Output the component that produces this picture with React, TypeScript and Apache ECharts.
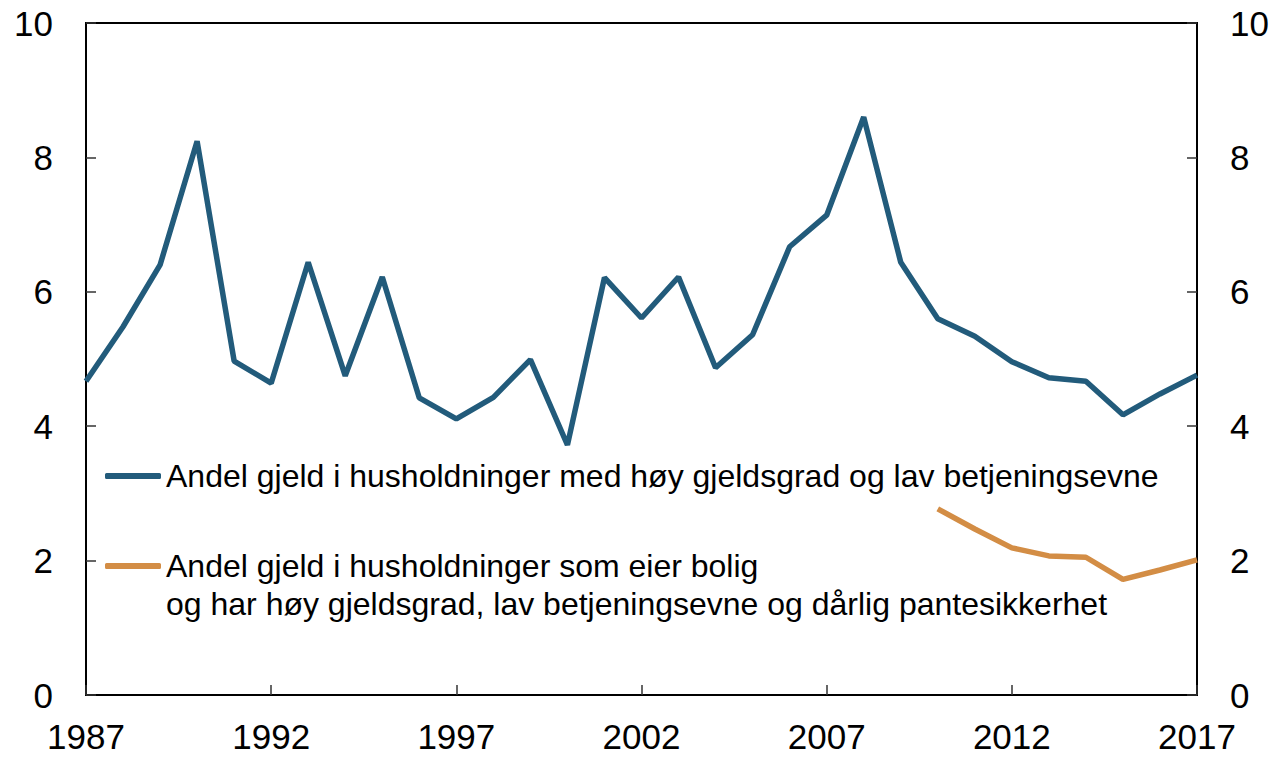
import React, { useEffect, useRef } from "react";
import * as echarts from "echarts";

const years: string[] = [];
for (let y = 1987; y <= 2017; y++) years.push(String(y));

const seriesNames = [
  "Andel gjeld i husholdninger med høy gjeldsgrad og lav betjeningsevne",
  "Andel gjeld i husholdninger som eier bolig og har høy gjeldsgrad, lav betjeningsevne og dårlig pantesikkerhet",
];
const legendLine1 = "Andel gjeld i husholdninger som eier bolig";
const legendLine2 = "og har høy gjeldsgrad, lav betjeningsevne og dårlig pantesikkerhet";

const highDebt: number[] = [
  4.67, 5.48, 6.4, 8.24, 4.97, 4.64, 6.44, 4.75, 6.22, 4.42, 4.11, 4.43, 4.99, 3.72, 6.21, 5.61,
  6.22, 4.87, 5.36, 6.67, 7.14, 8.6, 6.44, 5.6, 5.34, 4.96, 4.72, 4.67, 4.17, 4.48, 4.76,
];
const ownersData: (number | null)[] = [
  null, null, null, null, null, null, null, null, null, null, null, null, null, null, null, null,
  null, null, null, null, null, null, null, 2.77, 2.47, 2.19, 2.07, 2.05, 1.72, 1.86, 2.01,
];
const yTicks = { min: 0, max: 10, interval: 2 };

const FONT = "'Liberation Sans', Arial, Helvetica, sans-serif";
const BLUE = "#225b7b";
const ORANGE = "#d38d45";
const LEG_FS = 32;

export default function App() {
  const ref = useRef<HTMLDivElement>(null);
  useEffect(() => {
    document.body.style.margin = "0";
    if (!ref.current) return;
    const chart = echarts.init(ref.current, undefined, { renderer: "svg" });
    const yAxisCommon = {
      type: "value",
      min: yTicks.min,
      max: yTicks.max,
      interval: yTicks.interval,
      splitLine: { show: false },
      axisLine: { show: true, lineStyle: { color: "#000", width: 2 } },
      axisTick: { show: true, inside: true, length: 10, lineStyle: { color: "#333", width: 1.5 } },
      axisLabel: { color: "#000", fontSize: 35, fontFamily: FONT, margin: 33 },
    };
    const legendCommon = {
      left: 105,
      padding: 0,
      icon: "roundRect",
      itemWidth: 56,
      itemHeight: 6,
      textStyle: { color: "#000", fontSize: LEG_FS, fontFamily: FONT, lineHeight: 36 },
    };
    chart.setOption({
      animation: false,
      grid: {
        left: 86,
        right: 79,
        top: 23,
        bottom: 62,
        show: true,
        borderColor: "#000",
        borderWidth: 2,
        backgroundColor: "transparent",
      },
      xAxis: {
        type: "category",
        data: years,
        boundaryGap: false,
        axisLine: { show: true, lineStyle: { color: "#000", width: 2 } },
        axisTick: {
          show: true,
          inside: true,
          length: 10,
          interval: 4,
          lineStyle: { color: "#333", width: 1.5 },
        },
        axisLabel: { interval: 4, color: "#000", fontSize: 35, fontFamily: FONT, margin: 24 },
        splitLine: { show: false },
      },
      yAxis: [
        { ...yAxisCommon, position: "left" },
        { ...yAxisCommon, position: "right" },
      ],
      legend: [
        { ...legendCommon, data: [seriesNames[0]], top: 458 },
        { ...legendCommon, data: [seriesNames[1]], top: 548, formatter: () => legendLine1 },
      ],
      graphic: [
        {
          type: "text",
          left: 166,
          top: 588,
          style: { text: legendLine2, fill: "#000", fontSize: LEG_FS, fontFamily: FONT },
        },
      ],
      series: [
        {
          name: seriesNames[0],
          type: "line",
          data: highDebt,
          showSymbol: false,
          lineStyle: { color: BLUE, width: 5.5 },
          itemStyle: { color: BLUE },
        },
        {
          name: seriesNames[1],
          type: "line",
          data: ownersData,
          showSymbol: false,
          lineStyle: { color: ORANGE, width: 5.5 },
          itemStyle: { color: ORANGE },
        },
      ],
    });
    return () => chart.dispose();
  }, []);
  return (
    <div
      ref={ref}
      style={{ position: "absolute", left: 0, top: 0, width: 1276, height: 757 }}
    />
  );
}
